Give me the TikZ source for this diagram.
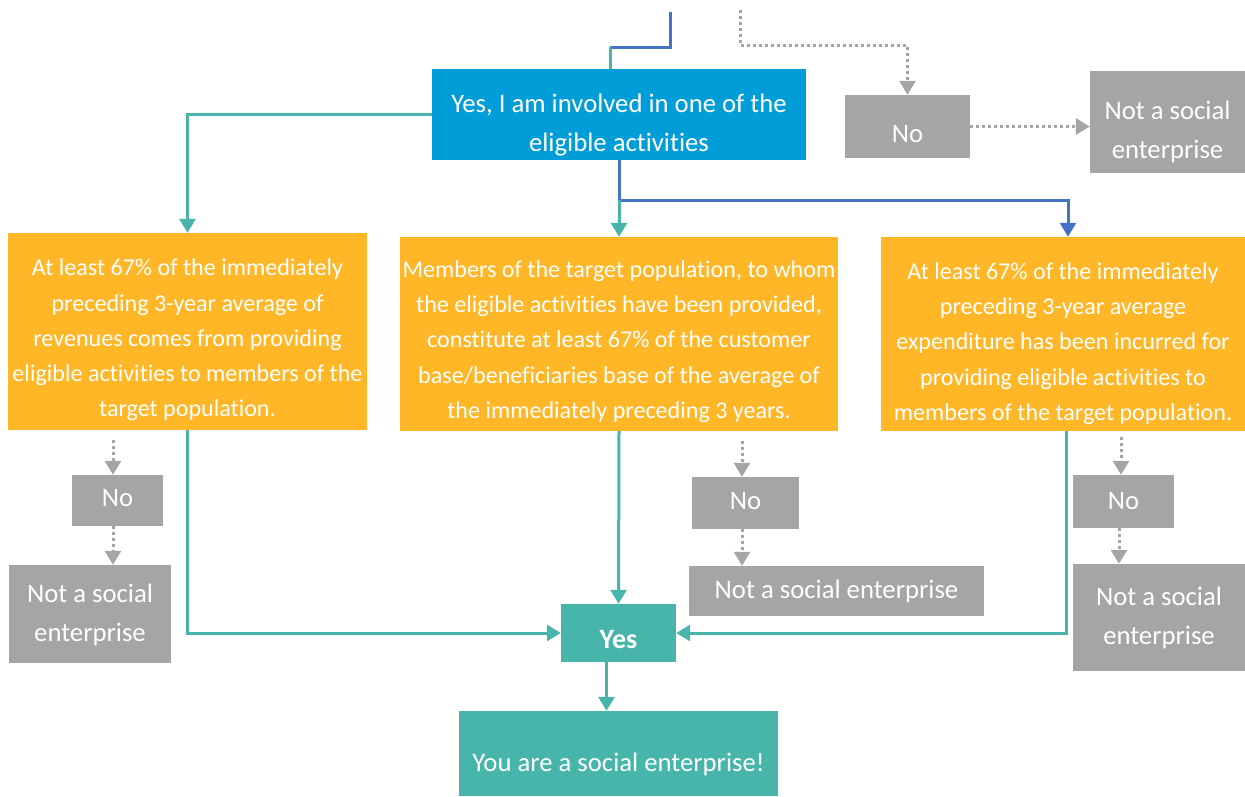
\documentclass[tikz,border=0pt]{standalone}
\usepackage{fontspec}
\setmainfont[Ligatures=CommonOff]{Carlito}
\usetikzlibrary{arrows.meta,calc}
\definecolor{cblue}{RGB}{0,157,216}
\definecolor{corange}{RGB}{255,183,40}
\definecolor{cgray}{RGB}{165,165,165}
\definecolor{cteal}{RGB}{71,181,169}
\definecolor{cline}{RGB}{68,114,196}
\begin{document}
\begin{tikzpicture}[x=1pt,y=-1pt,
  box/.style={rectangle, inner sep=0pt},
  bluebox/.style={box, fill=cblue},
  orangebox/.style={box, fill=corange},
  graybox/.style={box, fill=cgray},
  tealbox/.style={box, fill=cteal},
  txt/.style={text=white, align=center, inner sep=0pt, font=\fontsize{26.7}{39}\selectfont},
  otxt/.style={txt, font=\fontsize{24.1}{35.3}\selectfont},
  tip/.style={-{Triangle[width=16pt,length=14pt]}},
  tealline/.style={draw=cteal, line width=3pt},
  blueline/.style={draw=cline, line width=3pt},
  dotline/.style={draw=cgray, line width=3pt, dash pattern=on 3pt off 3pt},
  graytip/.style={-{Triangle[width=16pt,length=14pt,fill=cgray]}}
]
\useasboundingbox (0,0) rectangle (1245,796);

% top row
\node[bluebox, minimum width=374pt, minimum height=91pt,
  label={[txt, yshift=-11pt]center:{Yes, I am involved in one of the\\eligible activities}}]
  (q1) at (619,114.5) {};
\node[graybox, minimum width=125pt, minimum height=63pt,
  label={[txt, yshift=-7.5pt]center:No}] (no0) at (907.5,126.5) {};
\node[graybox, minimum width=155pt, minimum height=102pt,
  label={[txt, yshift=-10pt]center:{Not a social\\enterprise}}] (nf0) at (1167.5,122) {};

% criteria
\node[orangebox, minimum width=359pt, minimum height=197pt,
  label={[otxt, yshift=-8.5pt]center:{At least 67\% of the immediately\\preceding 3-year average of\\revenues comes from providing\\eligible activities to members of the\\target population.}}]
  (o1) at (187.5,331.5) {};
\node[orangebox, minimum width=438pt, minimum height=194pt,
  label={[otxt, yshift=-7.5pt]center:{Members of the target population, to whom\\the eligible activities have been provided,\\constitute at least 67\% of the customer\\base/beneficiaries base of the average of\\the immediately preceding 3 years.}}]
  (o2) at (619,334) {};
\node[orangebox, minimum width=364pt, minimum height=194pt,
  label={[otxt, yshift=-9.5pt]center:{At least 67\% of the immediately\\preceding 3-year average\\expenditure has been incurred for\\providing eligible activities to\\members of the target population.}}]
  (o3) at (1063,334) {};

% negative outcomes
\node[graybox, minimum width=91pt, minimum height=51pt,
  label={[txt, yshift=2pt]center:No}] (n1) at (117.5,500.5) {};
\node[graybox, minimum width=162pt, minimum height=98pt,
  label={[txt, yshift=-1pt]center:{Not a social\\enterprise}}] (f1) at (90,614) {};
\node[graybox, minimum width=107pt, minimum height=52pt,
  label={[txt, yshift=2pt]center:No}] (n2) at (745.5,503) {};
\node[graybox, minimum width=295pt, minimum height=50pt,
  label={[txt]center:{Not a social enterprise}}] (f2) at (836.5,591) {};
\node[graybox, minimum width=101pt, minimum height=53pt,
  label={[txt]center:No}] (n3) at (1123.5,501.5) {};
\node[graybox, minimum width=172pt, minimum height=107pt,
  label={[txt]center:{Not a social\\enterprise}}] (f3) at (1159,617.5) {};

% positive outcome
\node[tealbox, minimum width=115pt, minimum height=58pt,
  label={[txt, font=\fontsize{28}{39}\selectfont\bfseries, yshift=-7pt]center:Yes}] (yes) at (618.5,633) {};
\node[tealbox, minimum width=319pt, minimum height=85pt,
  label={[txt, yshift=-11pt]center:{You are a social enterprise!}}] (se) at (618.5,753.5) {};

% incoming lines at the top
\coordinate (tin) at (670,12);
\coordinate (tj) at (610,47);
\draw[blueline] (tin) |- (tj);
\draw[tealline] (tj) -- (tj |- q1.north);
\coordinate (din) at (740,10);
\coordinate (dj) at (740,45);
\draw[dotline, graytip] (din) -- (dj) -| (no0.north);
\draw[dotline, graytip] (no0.east) -- (no0.east -| nf0.west);

% branches from the activity box
\draw[tealline, tip] (q1.west) -| (o1.north);
\coordinate (split) at (619,200);
\draw[blueline, tip] (q1.south) -- (split) -| ($(o3.north)+(5,0)$);
\draw[tealline, tip] (split) -- (o2.north);

% "No" paths
\draw[dotline, graytip, shorten <=10pt] (o1.south -| 113,0) -- (n1.north -| 113,0);
\draw[dotline, graytip] (n1.south -| 113,0) -- (f1.north -| 113,0);
\draw[dotline, graytip, shorten <=10pt] (o2.south -| 742,0) -- (n2.north -| 742,0);
\draw[dotline, graytip] (n2.south -| 742,0) -- (f2.north -| 742,0);
\draw[dotline, graytip, shorten <=6pt] (o3.south -| 1121,0) -- (n3.north -| 1121,0);
\draw[dotline, graytip] (n3.south -| 1119,0) -- (f3.north -| 1119,0);

% "Yes" paths
\draw[tealline, tip] (o1.south) |- (yes.west);
\draw[tealline, tip] (o2.south) -- (yes.north);
\draw[tealline, tip] ($(o3.south)+(3,0)$) |- (yes.east);
\draw[tealline, tip] ($(yes.south)+(-12,0)$) -- ($(se.north)+(-12,0)$);
\end{tikzpicture}
\end{document}
